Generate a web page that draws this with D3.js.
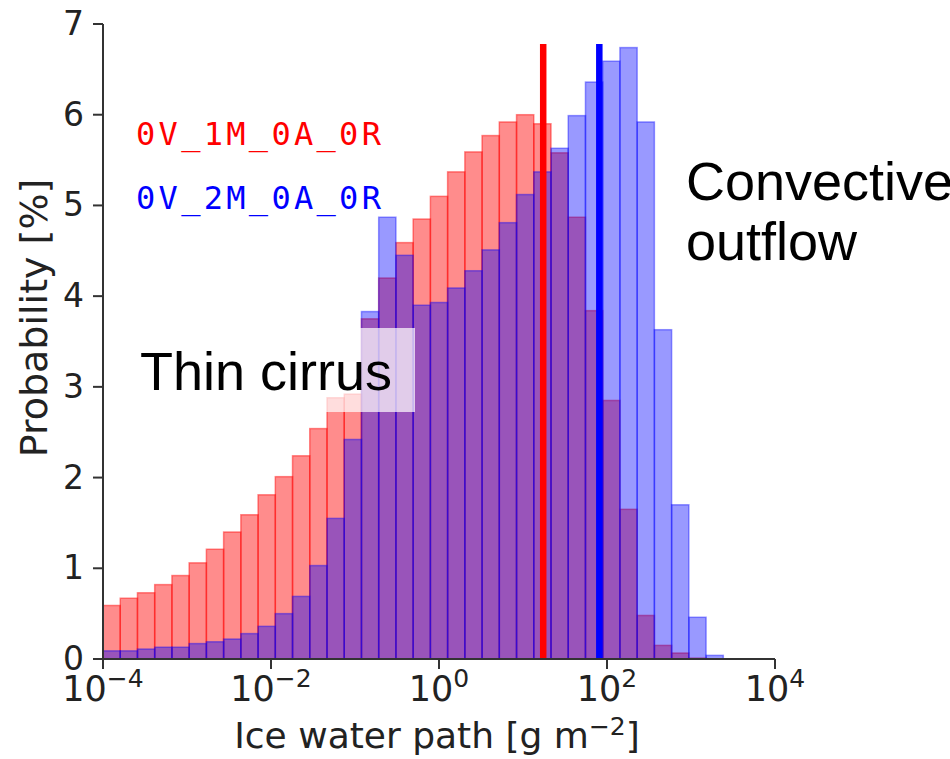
<!DOCTYPE html>
<html>
<head>
<meta charset="utf-8">
<script src="https://cdn.jsdelivr.net/npm/d3@7"></script>
<style>
  body { margin: 0; background: #fff; }
  svg { display: block; }
  text { fill: #222; }
</style>
</head>
<body>
<svg width="950" height="759"></svg>
<script>
// bins: logspace(-4, 4, 40) -> 39 bins
const binEdges = d3.range(40).map(i => Math.pow(10, -4 + 8 * i / 39));

// probability [%] per bin
const red1M = [0.59, 0.67, 0.73, 0.82, 0.92, 1.06, 1.21, 1.40, 1.59, 1.81,
               2.01, 2.24, 2.54, 2.88, 2.92, 3.75, 4.20, 4.59, 4.85, 5.10,
               5.37, 5.59, 5.77, 5.92, 6.00, 5.90, 5.58, 4.87, 3.84, 2.85,
               1.65, 0.48, 0.15, 0.066, 0.01, 0, 0, 0, 0];
const blue2M = [0.09, 0.09, 0.11, 0.13, 0.13, 0.17, 0.19, 0.22, 0.28, 0.36,
                0.50, 0.69, 1.03, 1.55, 2.42, 3.83, 4.87, 4.45, 3.90, 3.93,
                4.09, 4.28, 4.51, 4.81, 5.12, 5.37, 5.63, 5.99, 6.36, 6.59,
                6.74, 5.92, 3.63, 1.70, 0.46, 0.04, 0, 0, 0];

// mean IWP of each run (vertical lines)
const redMean = 17.4;
const blueMean = 81;
const meanLineTop = 6.78;

const yTicks = [0, 1, 2, 3, 4, 5, 6, 7];
const xTickExps = [-4, -2, 0, 2, 4];

const svg = d3.select("svg");

const x = d3.scaleLog().domain([1e-4, 1e4]).range([103, 775]);
const y = d3.scaleLinear().domain([0, 7]).range([659, 24]);

function drawHist(values, color, alpha) {
    svg.append("g")
        .selectAll("rect")
        .data(values.map((v, i) => ({ x0: binEdges[i], x1: binEdges[i + 1], v })).filter(d => d.v > 0))
        .enter().append("rect")
        .attr("x", d => x(d.x0))
        .attr("y", d => y(d.v))
        .attr("width", d => x(d.x1) - x(d.x0))
        .attr("height", d => y(0) - y(d.v))
        .attr("fill", color)
        .attr("fill-opacity", alpha)
        .attr("stroke", color)
        .attr("stroke-opacity", alpha)
        .attr("stroke-width", 1.5);
}

drawHist(red1M, "#ff0000", 0.45);
drawHist(blue2M, "#0000ff", 0.4);

// mean lines
[[redMean, "#ff0000"], [blueMean, "#0000ff"]].forEach(([m, c]) => {
    svg.append("line")
        .attr("x1", x(m)).attr("x2", x(m))
        .attr("y1", y(0)).attr("y2", y(meanLineTop))
        .attr("stroke", c)
        .attr("stroke-width", 6.5);
});

// axes
const axisColor = "#333";
svg.append("line")
    .attr("x1", x(1e-4)).attr("x2", x(1e-4))
    .attr("y1", y(0)).attr("y2", y(7))
    .attr("stroke", axisColor).attr("stroke-width", 2);
svg.append("line")
    .attr("x1", x(1e-4)).attr("x2", x(1e4))
    .attr("y1", y(0)).attr("y2", y(0))
    .attr("stroke", axisColor).attr("stroke-width", 2);

const yAxis = svg.append("g");
yTicks.forEach(t => {
    yAxis.append("line")
        .attr("x1", x(1e-4) - 10).attr("x2", x(1e-4))
        .attr("y1", y(t)).attr("y2", y(t))
        .attr("stroke", axisColor).attr("stroke-width", 2);
    yAxis.append("text")
        .attr("x", x(1e-4) - 19)
        .attr("y", y(t) + 11)
        .attr("text-anchor", "end")
        .attr("font-family", "DejaVu Sans")
        .attr("font-size", 33)
        .text(t);
});

const xAxis = svg.append("g");
xTickExps.forEach(e => {
    const px = x(Math.pow(10, e));
    xAxis.append("line")
        .attr("x1", px).attr("x2", px)
        .attr("y1", y(0)).attr("y2", y(0) + 10)
        .attr("stroke", axisColor).attr("stroke-width", 2);
    const t = xAxis.append("text")
        .attr("x", px)
        .attr("y", 701)
        .attr("text-anchor", "middle")
        .attr("font-family", "DejaVu Sans")
        .attr("font-size", 35);
    t.append("tspan").text("10");
    t.append("tspan")
        .attr("dy", -14)
        .attr("font-size", 25)
        .text(e < 0 ? "\u2212" + (-e) : String(e));
});

// axis labels
svg.append("text")
    .attr("transform", "translate(47,318) rotate(-90)")
    .attr("text-anchor", "middle")
    .attr("font-family", "DejaVu Sans")
    .attr("font-size", 38)
    .text("Probability [%]");

const xl = svg.append("text")
    .attr("x", 437)
    .attr("y", 748)
    .attr("text-anchor", "middle")
    .attr("font-family", "DejaVu Sans")
    .attr("font-size", 36);
xl.append("tspan").text("Ice water path [g m");
xl.append("tspan").attr("dy", -13).attr("font-size", 25).text("\u22122");
xl.append("tspan").attr("dy", 13).text("]");

// run labels
const runs = [["0V_1M_0A_0R", "#ff0000", 145], ["0V_2M_0A_0R", "#0000ff", 209]];
runs.forEach(([name, c, by]) => {
    svg.append("text")
        .attr("x", 136)
        .attr("y", by)
        .attr("font-family", "DejaVu Sans Mono")
        .attr("font-size", 32)
        .attr("letter-spacing", 3.3)
        .style("fill", c)
        .text(name);
});

// annotations
svg.append("rect")
    .attr("x", 130).attr("y", 328)
    .attr("width", 285).attr("height", 84)
    .attr("fill", "#fff")
    .attr("fill-opacity", 0.7);
svg.append("text")
    .attr("x", 140).attr("y", 390)
    .attr("font-family", "Liberation Sans, Arial")
    .attr("font-size", 54)
    .style("fill", "#000")
    .text("Thin cirrus");

const conv = svg.append("text")
    .attr("font-family", "Liberation Sans, Arial")
    .attr("font-size", 54)
    .style("fill", "#000");
conv.append("tspan").attr("x", 686).attr("y", 200).text("Convective");
conv.append("tspan").attr("x", 686).attr("y", 260).text("outflow");
</script>
</body>
</html>
